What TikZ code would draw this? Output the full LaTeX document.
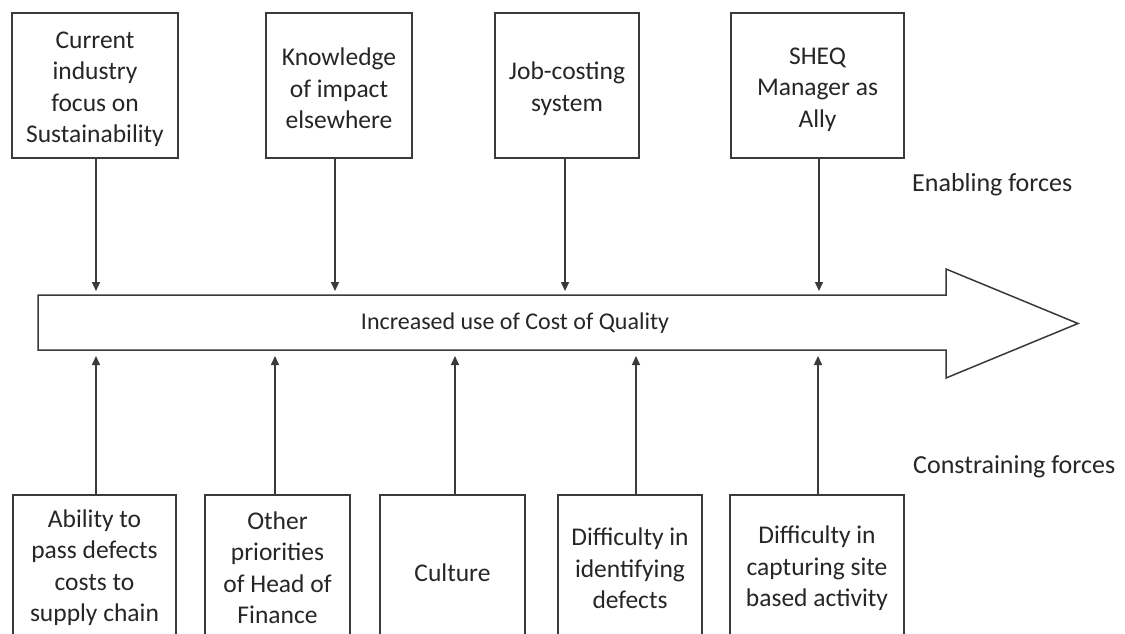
\documentclass[tikz,border=0pt]{standalone}
\usepackage{fontspec}
\setmainfont{Carlito}
\usetikzlibrary{arrows.meta}
\definecolor{linegray}{HTML}{3A3A3A}
\definecolor{textgray}{HTML}{262626}
\tikzset{
  forcebox/.style={draw=linegray, line width=1.5pt, fill=white, inner sep=0pt},
  boxtext/.style={inner sep=0pt, align=center, text=textgray,
    font=\fontsize{25.5}{31.5}\selectfont},
  push/.style={draw=linegray, line width=1.5pt,
    -{Triangle[length=9pt,width=8pt]}},
  sidelabel/.style={anchor=west, inner sep=0pt, text=textgray,
    font=\fontsize{26}{31.5}\selectfont},
}
\begin{document}
\begin{tikzpicture}[x=1pt,y=-1pt]
  \useasboundingbox (0,0) rectangle (1125,634);
  \clip (0,0) rectangle (1125,634);
  \fill[white] (0,0) rectangle (1125,634);

  % central block arrow
  \draw[linegray, line width=1.5pt, fill=white]
    (38,295) -- (946,295) -- (946,269) -- (1078,323.5) -- (946,378)
    -- (946,350) -- (38,350) -- cycle;
  \node[text=textgray, inner sep=0pt, font=\fontsize{24}{30}\selectfont] (goal)
    at (515,323) {Increased use of Cost of Quality};

  % enabling forces (top)
  \node[forcebox, minimum width=166pt, minimum height=145pt] (t1) at (95,85.5) {};
  \node[forcebox, minimum width=146pt, minimum height=145pt] (t2) at (339,85.5) {};
  \node[forcebox, minimum width=144pt, minimum height=145pt] (t3) at (567,85.5) {};
  \node[forcebox, minimum width=173pt, minimum height=145pt] (t4) at (817.5,85.5) {};
  \node[boxtext] (t1txt) at ([yshift=-4pt]t1.center)
    {Current\\industry\\focus on\\Sustainability};
  \node[boxtext] (t2txt) at ([yshift=-3pt]t2.center)
    {Knowledge\\of impact\\elsewhere};
  \node[boxtext] (t3txt) at ([yshift=-3pt]t3.center)
    {Job-costing\\system};
  \node[boxtext] (t4txt) at ([yshift=-4pt]t4.center)
    {SHEQ\\Manager as\\Ally};

  \coordinate (e1) at (96,291);
  \coordinate (e2) at (335,291);
  \coordinate (e3) at (565,291);
  \coordinate (e4) at (819,291);
  \draw[push] (t1.south -| e1) -- (e1);
  \draw[push] (t2.south -| e2) -- (e2);
  \draw[push] (t3.south -| e3) -- (e3);
  \draw[push] (t4.south -| e4) -- (e4);

  \node[sidelabel] (enab) at (912,185) {Enabling forces};

  % constraining forces (bottom)
  \node[forcebox, minimum width=163pt, minimum height=155pt] (b1) at (94.5,572.5) {};
  \node[forcebox, minimum width=145pt, minimum height=155pt] (b2) at (277.5,572.5) {};
  \node[forcebox, minimum width=145pt, minimum height=155pt] (b3) at (452.5,572.5) {};
  \node[forcebox, minimum width=144pt, minimum height=155pt] (b4) at (630,572.5) {};
  \node[forcebox, minimum width=174pt, minimum height=155pt] (b5) at (817,572.5) {};
  \node[boxtext] (b1txt) at ([yshift=5pt]b1.center)
    {Ability to\\pass defects\\costs to\\supply chain};
  \node[boxtext] (b2txt) at ([yshift=5pt]b2.center)
    {Other\\priorities\\of Head of\\Finance};
  \node[boxtext] (b3txt) at ([yshift=0pt]b3.center) {Culture};
  \node[boxtext] (b4txt) at ([yshift=4pt]b4.center)
    {Difficulty in\\identifying\\defects};
  \node[boxtext] (b5txt) at ([yshift=4pt]b5.center)
    {Difficulty in\\capturing site\\based activity};

  \coordinate (c1) at (96,356);
  \coordinate (c2) at (275,356);
  \coordinate (c3) at (455,356);
  \coordinate (c4) at (636,356);
  \coordinate (c5) at (818,356);
  \draw[push] (b1.north -| c1) -- (c1);
  \draw[push] (b2.north -| c2) -- (c2);
  \draw[push] (b3.north -| c3) -- (c3);
  \draw[push] (b4.north -| c4) -- (c4);
  \draw[push] (b5.north -| c5) -- (c5);

  \node[sidelabel] (cons) at (913,467) {Constraining forces};
\end{tikzpicture}
\end{document}
